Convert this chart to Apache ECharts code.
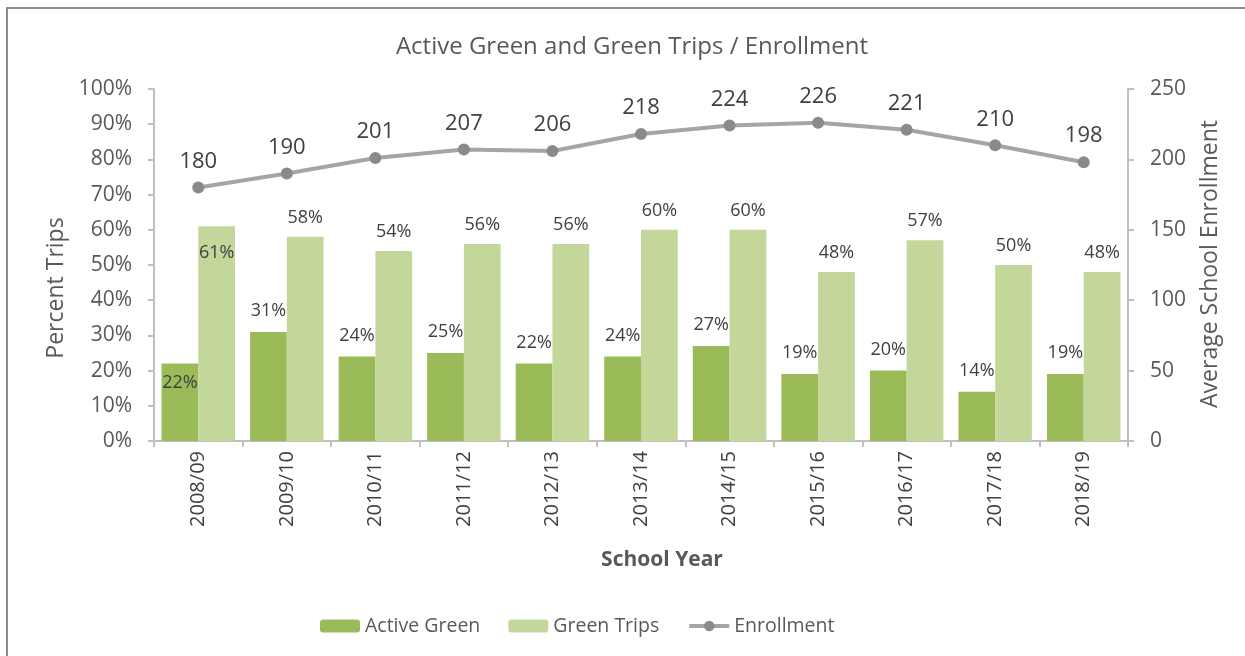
<!DOCTYPE html>
<html>
<head>
<meta charset="utf-8">
<script src="https://cdn.jsdelivr.net/npm/echarts@6/dist/echarts.min.js"></script>
<style>
  html, body { margin: 0; padding: 0; background: #ffffff; }
  #chart { width: 1245px; height: 656px; }
</style>
</head>
<body>
<div id="chart"></div>
<script>
// School years along the category axis
const schoolYears = ['2008/09', '2009/10', '2010/11', '2011/12', '2012/13', '2013/14',
                     '2014/15', '2015/16', '2016/17', '2017/18', '2018/19'];
// Share of trips (percent)
const activeGreen = [22, 31, 24, 25, 22, 24, 27, 19, 20, 14, 19];
const greenTrips  = [61, 58, 54, 56, 56, 60, 60, 48, 57, 50, 48];
// Average school enrollment (right axis)
const enrollment  = [180, 190, 201, 207, 206, 218, 224, 226, 221, 210, 198];
// Axis tick values
const percentTicks = [0, 10, 20, 30, 40, 50, 60, 70, 80, 90, 100];
const enrollTicks  = [0, 50, 100, 150, 200, 250];

const FONT = 'Open Sans';
const TEXT = '#595959';
const AXIS = '#bfbfbf';

// The first year's labels sit inside the bars
function barData(values, insideDist) {
  return values.map((v, i) => i === 0
    ? { value: v, label: { position: 'insideTop', distance: insideDist } }
    : v);
}

const chart = echarts.init(document.getElementById('chart'), null, { renderer: 'canvas' });

chart.setOption({
  animation: false,
  backgroundColor: '#ffffff',
  textStyle: { fontFamily: FONT },
  title: {
    text: 'Active Green and Green Trips / Enrollment',
    left: 627, top: 30, textAlign: 'center',
    textStyle: { fontFamily: FONT, fontSize: 24, fontWeight: 'normal', color: TEXT }
  },
  legend: {
    left: 315, top: 611,
    itemWidth: 40, itemHeight: 13, itemGap: 28,
    textStyle: { fontFamily: FONT, fontSize: 19.5, color: TEXT, padding: [0, 0, 0, 0] },
    lineStyle: { width: 4, color: '#a5a5a5' },
    data: ['Active Green', 'Green Trips', 'Enrollment']
  },
  grid: { left: 154, right: 117, top: 89, bottom: 215, containLabel: false },
  xAxis: {
    type: 'category',
    data: schoolYears,
    axisLine: { lineStyle: { color: AXIS, width: 2 } },
    axisTick: { show: true, length: 6, lineStyle: { color: AXIS, width: 2 } },
    axisLabel: { rotate: 90, margin: 10, fontFamily: FONT, fontSize: 20, color: '#404040' },
    splitLine: { show: false }
  },
  yAxis: [
    {
      type: 'value', min: 0, max: 100, interval: 10,
      axisLine: { show: true, lineStyle: { color: AXIS, width: 2 } },
      axisTick: { show: true, length: 6, lineStyle: { color: AXIS, width: 2 } },
      axisLabel: {
        margin: 22, fontFamily: FONT, fontSize: 21, color: TEXT,
        formatter: v => percentTicks.includes(v) ? v + '%' : ''
      },
      splitLine: { show: false }
    },
    {
      type: 'value', min: 0, max: 250, interval: 50, position: 'right',
      axisLine: { show: true, lineStyle: { color: AXIS, width: 2 } },
      axisTick: { show: true, length: 6, lineStyle: { color: AXIS, width: 2 } },
      axisLabel: {
        margin: 22, fontFamily: FONT, fontSize: 21, color: TEXT,
        formatter: v => enrollTicks.includes(v) ? String(v) : ''
      },
      splitLine: { show: false }
    }
  ],
  graphic: [
    {
      type: 'rect', silent: true, z: -10,
      shape: { x: 7, y: 8, width: 1300, height: 700 },
      style: { fill: 'none', stroke: '#8c8c8c', lineWidth: 2 }
    },
    {
      type: 'text', x: 56, y: 288, rotation: Math.PI / 2,
      style: { text: 'Percent Trips', fontFamily: FONT, fontSize: 23, fill: TEXT,
               align: 'center', verticalAlign: 'middle' }
    },
    {
      type: 'text', x: 1210, y: 264, rotation: Math.PI / 2,
      style: { text: 'Average School Enrollment', fontFamily: FONT, fontSize: 23, fill: TEXT,
               align: 'center', verticalAlign: 'middle' }
    },
    {
      type: 'text', x: 662, y: 560,
      style: { text: 'School Year', fontFamily: FONT, fontSize: 21, fontWeight: 'bold', fill: TEXT,
               align: 'center', verticalAlign: 'middle' }
    }
  ],
  series: [
    {
      name: 'Active Green', type: 'bar', yAxisIndex: 0,
      data: barData(activeGreen, 10),
      barGap: '0%', barCategoryGap: '17%',
      itemStyle: { color: '#9bbb59' },
      label: {
        show: true, position: 'top', distance: 12,
        fontFamily: FONT, fontSize: 18, color: '#404040',
        formatter: p => p.value + '%'
      }
    },
    {
      name: 'Green Trips', type: 'bar', yAxisIndex: 0,
      data: barData(greenTrips, 18),
      barGap: '0%', barCategoryGap: '17%',
      itemStyle: { color: '#c4d79b' },
      label: {
        show: true, position: 'top', distance: 10,
        fontFamily: FONT, fontSize: 18, color: '#404040',
        formatter: p => p.value + '%'
      }
    },
    {
      name: 'Enrollment', type: 'line', yAxisIndex: 1,
      data: enrollment,
      symbol: 'circle', symbolSize: 12,
      lineStyle: { color: '#a5a5a5', width: 4 },
      itemStyle: { color: '#8a8a8a' },
      label: {
        show: true, position: 'top', distance: 9,
        fontFamily: FONT, fontSize: 22, color: '#404040'
      },
      z: 5
    }
  ]
});
</script>
</body>
</html>
